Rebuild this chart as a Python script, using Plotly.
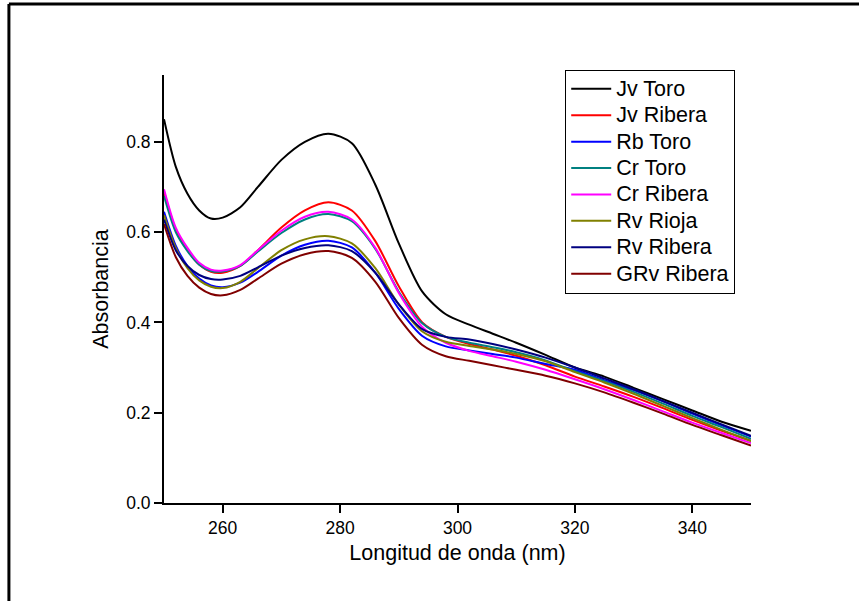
import plotly.graph_objects as go

wavelength = [250, 252, 254, 256, 258, 260, 263, 266, 270, 274, 278, 282, 286, 290,
              294, 298, 302, 306, 310, 315, 320, 325, 330, 335, 340, 345, 350]

jv_toro = [0.850, 0.745, 0.685, 0.648, 0.630, 0.632, 0.655, 0.700, 0.760, 0.800, 0.818, 0.797, 0.705, 0.575,
           0.468, 0.418, 0.395, 0.375, 0.355, 0.328, 0.300, 0.280, 0.255, 0.230, 0.205, 0.180, 0.160]
jv_ribera = [0.690, 0.605, 0.560, 0.528, 0.512, 0.510, 0.525, 0.560, 0.610, 0.648, 0.666, 0.648, 0.580, 0.480,
             0.400, 0.368, 0.352, 0.340, 0.326, 0.305, 0.280, 0.258, 0.235, 0.210, 0.184, 0.160, 0.138]
rb_toro = [0.645, 0.570, 0.525, 0.497, 0.482, 0.478, 0.488, 0.512, 0.548, 0.572, 0.581, 0.566, 0.510, 0.430,
           0.370, 0.347, 0.338, 0.330, 0.322, 0.308, 0.295, 0.272, 0.250, 0.225, 0.198, 0.172, 0.147]
cr_toro = [0.680, 0.600, 0.558, 0.528, 0.514, 0.513, 0.525, 0.557, 0.598, 0.628, 0.640, 0.624, 0.563, 0.468,
           0.398, 0.368, 0.355, 0.345, 0.334, 0.316, 0.292, 0.270, 0.246, 0.220, 0.193, 0.168, 0.142]
cr_ribera = [0.695, 0.610, 0.565, 0.532, 0.517, 0.515, 0.527, 0.560, 0.603, 0.634, 0.645, 0.628, 0.565, 0.465,
             0.390, 0.355, 0.337, 0.325, 0.313, 0.295, 0.274, 0.252, 0.228, 0.203, 0.178, 0.155, 0.133]
rv_rioja = [0.638, 0.565, 0.520, 0.493, 0.479, 0.476, 0.490, 0.520, 0.560, 0.584, 0.591, 0.575, 0.520, 0.440,
            0.380, 0.357, 0.348, 0.340, 0.330, 0.314, 0.290, 0.267, 0.242, 0.215, 0.188, 0.162, 0.137]
rv_ribera = [0.628, 0.560, 0.525, 0.505, 0.496, 0.495, 0.503, 0.522, 0.548, 0.565, 0.571, 0.558, 0.510, 0.440,
             0.385, 0.368, 0.362, 0.352, 0.340, 0.322, 0.300, 0.276, 0.252, 0.226, 0.200, 0.174, 0.149]
grv_ribera = [0.618, 0.545, 0.503, 0.477, 0.463, 0.460, 0.472, 0.497, 0.530, 0.551, 0.558, 0.543, 0.490, 0.410,
              0.350, 0.325, 0.315, 0.305, 0.295, 0.282, 0.265, 0.245, 0.222, 0.198, 0.173, 0.150, 0.127]

series_names = ["Jv Toro", "Jv Ribera", "Rb Toro", "Cr Toro", "Cr Ribera", "Rv Rioja", "Rv Ribera", "GRv Ribera"]
series_values = [jv_toro, jv_ribera, rb_toro, cr_toro, cr_ribera, rv_rioja, rv_ribera, grv_ribera]
series_colors = ["#000000", "#FF0000", "#0000FF", "#008080", "#FF00FF", "#808000", "#000080", "#800000"]

x_ticks = [260, 280, 300, 320, 340]
y_ticks = [0.0, 0.2, 0.4, 0.6, 0.8]

fig = go.Figure()
for name, vals, col in zip(series_names, series_values, series_colors):
    fig.add_trace(go.Scatter(x=wavelength, y=vals, mode="lines",
                             name='<span style="font-size:21.5px">' + name + '</span>',
                             hovertemplate=name + ": %{y}<extra></extra>",
                             line=dict(color=col, width=2, shape="spline", smoothing=0.8)))

font_family = "Liberation Sans, Arial, sans-serif"
fig.update_layout(
    width=859, height=601,
    margin=dict(l=164, r=108, t=75, b=98),
    paper_bgcolor="white", plot_bgcolor="white",
    font=dict(family=font_family, color="black"),
    showlegend=True,
    legend=dict(x=0.6835, y=1.0125, xanchor="left", yanchor="top",
                bordercolor="black", borderwidth=1, bgcolor="white",
                font=dict(size=18, family=font_family), tracegroupgap=0,
                itemwidth=40),
    xaxis=dict(range=[250, 350], tickvals=x_ticks, ticktext=[str(v) for v in x_ticks],
               showline=True, linecolor="black", linewidth=2, ticks="outside",
               ticklen=8, tickwidth=2, tickcolor="black", showgrid=False, zeroline=False,
               tickfont=dict(size=17.5), title=dict(text="Longitud de onda (nm)", font=dict(size=21.5), standoff=8)),
    yaxis=dict(range=[0, 0.948], tickvals=y_ticks, ticktext=[f"{v:.1f}" for v in y_ticks],
               showline=True, linecolor="black", linewidth=2, ticks="outside",
               ticklen=8, tickwidth=2, tickcolor="black", showgrid=False, zeroline=False,
               tickfont=dict(size=17.5), title=dict(text="Absorbancia", font=dict(size=21.5), standoff=12)),
    shapes=[
        dict(type="line", xref="paper", yref="paper", x0=-0.2642, x1=1.3, y0=1.1659, y1=1.1659,
             line=dict(color="black", width=3)),
        dict(type="line", xref="paper", yref="paper", x0=-0.2642, x1=-0.2642, y0=-0.3, y1=1.1659,
             line=dict(color="black", width=3)),
    ],
)

fig.write_html("out.html", config={"displayModeBar": False},
               post_script="document.body.style.margin='0';")
